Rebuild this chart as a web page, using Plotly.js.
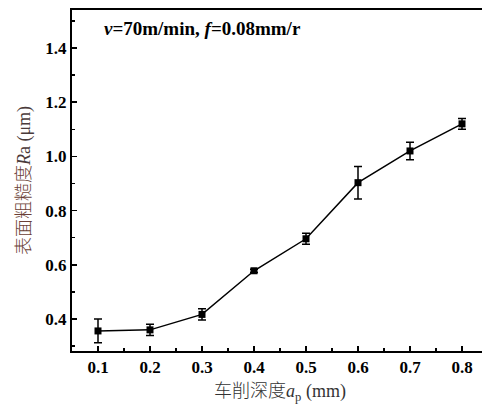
<!DOCTYPE html>
<html>
<head>
<meta charset="utf-8">
<script src="https://cdn.plot.ly/plotly-3.0.1.min.js"></script>
<style>
html,body{margin:0;padding:0;overflow:hidden;background:#fff;}
#chart{width:490px;height:404px;}
</style>
</head>
<body>
<div id="chart"></div>
<script>
const depth = [0.1, 0.2, 0.3, 0.4, 0.5, 0.6, 0.7, 0.8];
const roughness = [0.356, 0.360, 0.417, 0.578, 0.696, 0.903, 1.020, 1.120];
const errors = [0.044, 0.021, 0.021, 0.006, 0.020, 0.060, 0.032, 0.020];
const xTicks = [0.1, 0.2, 0.3, 0.4, 0.5, 0.6, 0.7, 0.8];
const xTickLabels = ['0.1','0.2','0.3','0.4','0.5','0.6','0.7','0.8'];
const yTicks = [0.4, 0.6, 0.8, 1.0, 1.2, 1.4];
const yTickLabels = ['0.4','0.6','0.8','1.0','1.2','1.4'];

const serif = '"Liberation Serif", serif';

const trace = {
  x: depth, y: roughness, type: 'scatter', mode: 'lines+markers',
  line: {color: '#000', width: 1.5},
  marker: {symbol: 'square', size: 7, color: '#000'},
  error_y: {type: 'data', array: errors, visible: true, color: '#000', thickness: 1.5, width: 4}
};

const layout = {
  width: 490, height: 404,
  margin: {l: 72, r: 2, t: 10, b: 53},
  paper_bgcolor: '#fff', plot_bgcolor: '#fff',
  showlegend: false,
  font: {family: serif, color: '#000'},
  xaxis: {
    range: [0.05, 0.85],
    tickmode: 'array', tickvals: xTicks, ticktext: xTickLabels,
    ticks: 'inside', ticklen: 5, tickwidth: 1.5, tickcolor: '#000',
    minor: {dtick: 0.05, tick0: 0.05, ticks: 'inside', ticklen: 3, tickwidth: 1.5, tickcolor: '#000'},
    showline: true, linecolor: '#000', linewidth: 2, mirror: true,
    showgrid: false, zeroline: false,
    tickfont: {family: serif, size: 17, color: '#000', weight: 'bold'},
    title: {text: '<span style="font-family:\'Noto Sans CJK SC\';font-weight:300">车削深度</span><i>a</i><sub>p</sub> (mm)', font: {family: serif, size: 18, color: '#333'}, standoff: 8}
  },
  yaxis: {
    range: [0.282, 1.54],
    tickmode: 'array', tickvals: yTicks, ticktext: yTickLabels,
    ticks: 'inside', ticklen: 5, tickwidth: 1.5, tickcolor: '#000',
    minor: {dtick: 0.1, tick0: 0.3, ticks: 'inside', ticklen: 3, tickwidth: 1.5, tickcolor: '#000'},
    showline: true, linecolor: '#000', linewidth: 2, mirror: true,
    showgrid: false, zeroline: false,
    tickfont: {family: serif, size: 17, color: '#000', weight: 'bold'},
    title: {text: '<span style="font-family:\'Noto Sans CJK SC\';font-weight:300;color:#6b3f36">表面粗糙度</span><i>R</i>a (μm)', font: {family: serif, size: 18, color: '#4a3a3a'}, standoff: 10}
  },
  annotations: [{
    xref: 'paper', yref: 'paper', x: 0.072, y: 0.947, xanchor: 'left', yanchor: 'middle',
    showarrow: false,
    text: '<b><i>v</i>=70m/min, <i>f</i>=0.08mm/r</b>',
    font: {family: serif, size: 19, color: '#000'}
  }]
};

Plotly.newPlot('chart', [trace], layout, {staticPlot: true, displayModeBar: false});
</script>
</body>
</html>
